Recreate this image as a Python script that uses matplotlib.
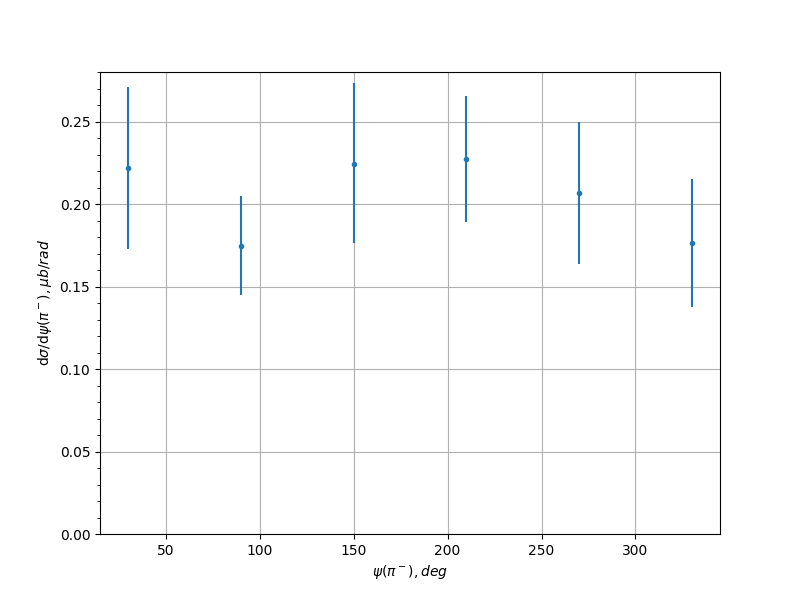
import numpy as np
import matplotlib.pyplot as plt
from matplotlib.ticker import AutoMinorLocator

# psi bins (deg) and cross section values
psi = [30, 90, 150, 210, 270, 330]
xsec = [0.222, 0.175, 0.2245, 0.2275, 0.207, 0.1765]
err_up = [0.049, 0.030, 0.049, 0.038, 0.043, 0.039]
err_dn = [0.049, 0.030, 0.048, 0.038, 0.043, 0.039]

fig, ax = plt.subplots(figsize=(8, 6), dpi=100)
ax.errorbar(psi, xsec, yerr=[err_dn, err_up], fmt='.', color='tab:blue')
ax.set_ylim(bottom=0)
ax.yaxis.set_minor_locator(AutoMinorLocator())
ax.grid(True)
ax.set_xlabel(r'$\psi(\pi^-), deg$')
ax.set_ylabel(r'd$\sigma$/d$\psi(\pi^-), \mu b/rad$')
fig.savefig('out.png')
